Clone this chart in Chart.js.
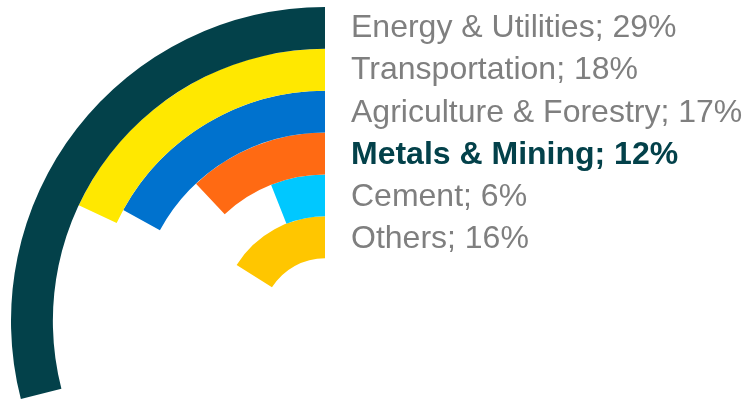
<!DOCTYPE html>
<html>
<head>
<meta charset="utf-8">
<script src="https://cdn.jsdelivr.net/npm/chart.js@4/dist/chart.umd.min.js"></script>
<style>
  html, body { margin: 0; padding: 0; background: #ffffff; overflow: hidden; width: 747px; height: 399px; }
  #wrap { position: absolute; left: 11px; top: 7px; width: 628px; height: 628px; }
  #labels { position: absolute; left: 351px; top: 5px; font-family: "Liberation Sans", Arial, sans-serif; font-size: 32px; line-height: 42.3px; color: #7F7F7F; white-space: nowrap; }
  #labels .hl { font-weight: bold; color: #03414A; }
</style>
</head>
<body>
<div id="wrap"><canvas id="c" width="628" height="628"></canvas></div>
<div id="labels"></div>
<script>
const categories = ["Energy & Utilities", "Transportation", "Agriculture & Forestry", "Metals & Mining", "Cement", "Others"];
const shares = [29, 18, 17, 12, 6, 16];
const colors = ["#03414A", "#FFE800", "#0072CE", "#FF6A13", "#00C8FF", "#FFC600"];
const highlighted = "Metals & Mining";

const lab = document.getElementById("labels");
categories.forEach((c, i) => {
  const d = document.createElement("div");
  d.textContent = c + "; " + shares[i] + "%";
  if (c === highlighted) d.className = "hl";
  lab.appendChild(d);
});

const datasets = shares.map((v, i) => ({
  label: categories[i],
  data: [100 - v, v],
  backgroundColor: ["rgba(0,0,0,0)", colors[i]],
  borderWidth: 0,
  hoverOffset: 0
}));

new Chart(document.getElementById("c"), {
  type: "doughnut",
  data: { labels: ["rest", "share"], datasets },
  options: {
    responsive: false,
    animation: false,
    cutout: "20%",
    rotation: 0,
    layout: { padding: 0 },
    plugins: { legend: { display: false }, tooltip: { enabled: false } },
    events: []
  }
});
</script>
</body>
</html>
